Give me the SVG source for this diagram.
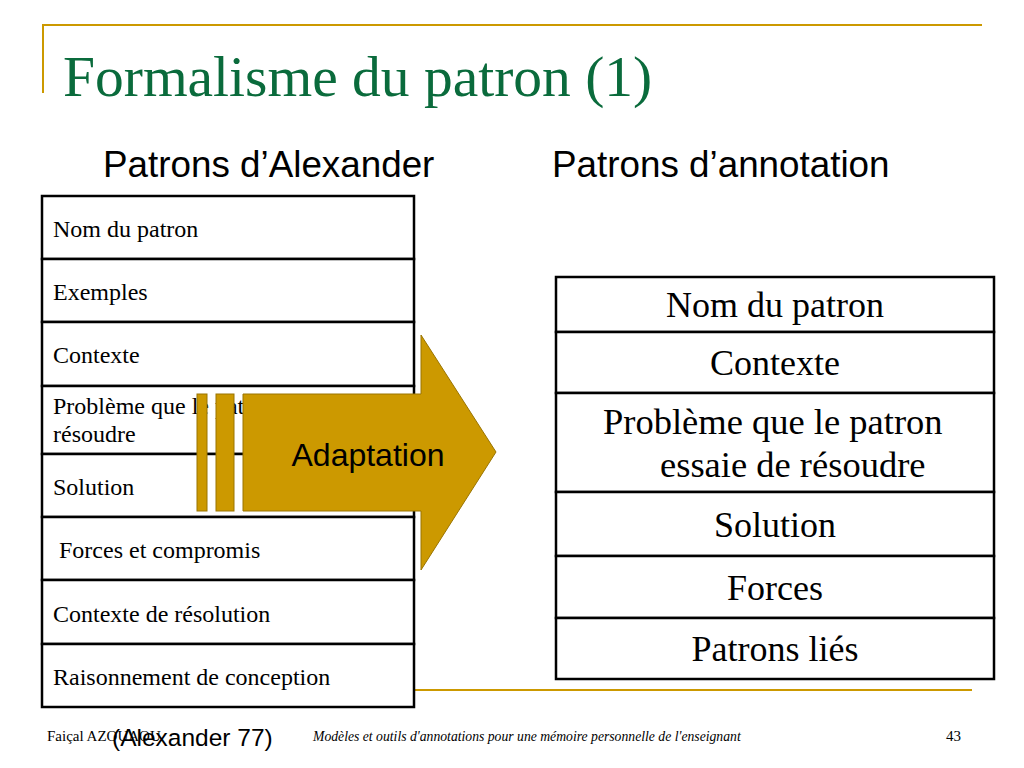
<svg xmlns="http://www.w3.org/2000/svg" width="1024" height="768" viewBox="0 0 1024 768">
<style>
.gold{stroke:#CC9900;stroke-width:2;fill:none}
.cell{fill:#fff;stroke:#000;stroke-width:2.5}
.lt{font-family:"Liberation Serif","Times New Roman",serif;font-size:24px;fill:#000}
.rt{font-family:"Liberation Serif","Times New Roman",serif;font-size:36px;fill:#000;text-anchor:middle}
.rs{font-family:"Liberation Serif","Times New Roman",serif;font-size:36.5px;fill:#000}
.hd{font-family:"Liberation Sans",Arial,sans-serif;font-size:36.8px;fill:#000}
.ft{font-family:"Liberation Serif","Times New Roman",serif;font-size:15px;fill:#000}
.arr{fill:#CC9900;stroke:#9a7400;stroke-width:1}
</style>
<rect width="1024" height="768" fill="#fff"/>
<g id="frame">
<line class="gold" x1="42" y1="25" x2="982" y2="25"/>
<line class="gold" x1="43" y1="25" x2="43" y2="93"/>
<line class="gold" x1="415" y1="690" x2="972" y2="690"/>
</g>
<text id="title" x="63" y="96" font-family="Liberation Serif,'Times New Roman',serif" font-size="57.5" fill="#0a6b3c">Formalisme du patron (1)</text>
<text class="hd" x="103" y="177">Patrons d’Alexander</text>
<text class="hd" x="552" y="177">Patrons d’annotation</text>
<g id="alexander">
<g id="a1"><rect class="cell" x="42" y="196" width="372" height="63"/><text class="lt" x="53" y="237">Nom du patron</text></g>
<g id="a2"><rect class="cell" x="42" y="259" width="372" height="63"/><text class="lt" x="53" y="300">Exemples</text></g>
<g id="a3"><rect class="cell" x="42" y="322" width="372" height="64"/><text class="lt" x="53" y="363">Contexte</text></g>
<g id="a4"><rect class="cell" x="42" y="386" width="372" height="68"/><text class="lt" x="53" y="414">Problème que le patron essaie de</text><text class="lt" x="53" y="442">résoudre</text></g>
<g id="a5"><rect class="cell" x="42" y="454" width="372" height="63"/><text class="lt" x="53" y="495">Solution</text></g>
<g id="a6"><rect class="cell" x="42" y="517" width="372" height="63"/><text class="lt" x="59" y="558">Forces et compromis</text></g>
<g id="a7"><rect class="cell" x="42" y="580" width="372" height="64"/><text class="lt" x="53" y="622">Contexte de résolution</text></g>
<g id="a8"><rect class="cell" x="42" y="644" width="372" height="63"/><text class="lt" x="53" y="685">Raisonnement de conception</text></g>
</g>
<g id="connectors">
<g id="adaptation">
<rect class="arr" x="197" y="394" width="10" height="117"/>
<rect class="arr" x="216" y="394" width="18" height="117"/>
<polygon class="arr" points="243,394 421,394 421,335 496,452 421,570 421,511 243,511"/>
<text x="368" y="466" text-anchor="middle" font-family="Liberation Sans,Arial,sans-serif" font-size="32" fill="#000">Adaptation</text>
</g>
</g>
<g id="annotation">
<g id="b1"><rect class="cell" x="556" y="277" width="438" height="55"/><text class="rt" x="775" y="317">Nom du patron</text></g>
<g id="b2"><rect class="cell" x="556" y="332" width="438" height="61"/><text class="rt" x="775" y="375">Contexte</text></g>
<g id="b3"><rect class="cell" x="556" y="393" width="438" height="99"/><text class="rs" x="603" y="434">Problème que le patron</text><text class="rs" x="660" y="477">essaie de résoudre</text></g>
<g id="b4"><rect class="cell" x="556" y="492" width="438" height="64"/><text class="rt" x="775" y="537">Solution</text></g>
<g id="b5"><rect class="cell" x="556" y="556" width="438" height="62"/><text class="rt" x="775" y="600">Forces</text></g>
<g id="b6"><rect class="cell" x="556" y="618" width="438" height="61"/><text class="rt" x="775" y="661">Patrons liés</text></g>
</g>
<g id="footer">
<text class="ft" x="47" y="741">Faiçal AZOUAOU</text>
<text x="112" y="746" font-family="Liberation Sans,Arial,sans-serif" font-size="24.5" fill="#000">(Alexander 77)</text>
<text class="ft" x="313" y="741" font-style="italic" style="font-size:13.7px">Modèles et outils d'annotations pour une mémoire personnelle de l'enseignant</text>
<text class="ft" x="946" y="741">43</text>
</g>
</svg>
